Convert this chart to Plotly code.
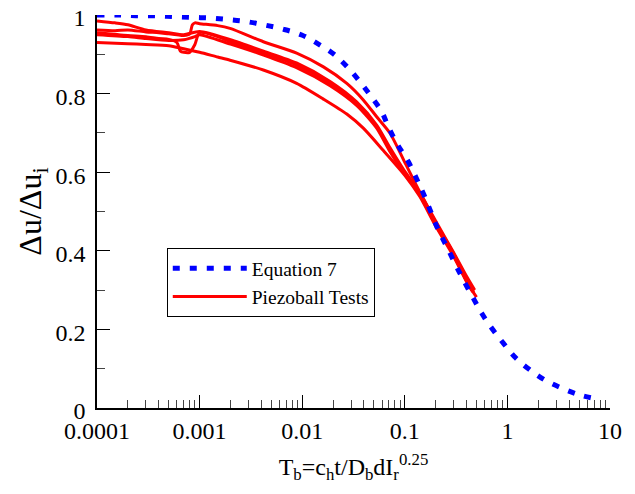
import plotly.graph_objects as go

# Equation 7 (blue dashed)
eq_x = [0.0001, 0.00016, 0.00024, 0.00037, 0.00056, 0.00085, 0.0013, 0.00195, 0.0029, 0.0044,
        0.0065, 0.0099, 0.0144, 0.0204, 0.0275, 0.0366, 0.0475, 0.0595, 0.069, 0.085, 0.108,
        0.131, 0.154, 0.212, 0.256, 0.308, 0.372, 0.466, 0.562, 0.713, 0.912, 1.21, 1.63,
        2.32, 3.43, 5.1, 7.7]
eq_y = [1.0, 1.0, 0.998, 0.998, 0.996, 0.994, 0.992, 0.988, 0.983, 0.974,
        0.964, 0.949, 0.926, 0.900, 0.868, 0.830, 0.791, 0.754, 0.716, 0.67, 0.627,
        0.582, 0.542, 0.453, 0.411, 0.368, 0.326, 0.279, 0.241, 0.201, 0.165, 0.127, 0.0985,
        0.071, 0.050, 0.033, 0.022]

# Piezoball tests (red)
t1_x = [0.0001, 0.00015, 0.0002, 0.0003, 0.0005, 0.0007, 0.001, 0.002, 0.0042, 0.0088,
        0.0187, 0.0339, 0.0532, 0.0718, 0.0966, 0.14, 0.2, 0.3, 0.4, 0.47]
t1_y = [0.985, 0.980, 0.975, 0.962, 0.955, 0.950, 0.958, 0.937, 0.908, 0.878,
        0.831, 0.779, 0.720, 0.662, 0.608, 0.548, 0.472, 0.392, 0.33, 0.295]

t2_x = [0.0001, 0.00015, 0.0002, 0.0003, 0.0004, 0.0005, 0.0006, 0.0007, 0.0008, 0.00085,
        0.0009, 0.001, 0.0015, 0.00198, 0.00418, 0.00883, 0.0161, 0.0272, 0.0394, 0.0532,
        0.0718, 0.1, 0.14, 0.2, 0.3, 0.4, 0.48]
t2_y = [0.962, 0.960, 0.962, 0.957, 0.955, 0.952, 0.950, 0.948, 0.952, 0.975,
        0.980, 0.978, 0.973, 0.966, 0.932, 0.903, 0.868, 0.826, 0.784, 0.741,
        0.699, 0.625, 0.55, 0.476, 0.395, 0.335, 0.30]

t3_x = [0.0001, 0.0002, 0.0003, 0.0004, 0.0005, 0.0006, 0.00065, 0.0007, 0.0008, 0.0009,
        0.001, 0.0015, 0.002, 0.0042, 0.0088, 0.0187, 0.0339, 0.0532, 0.0718, 0.0966,
        0.14, 0.2, 0.3, 0.4, 0.45]
t3_y = [0.955, 0.948, 0.945, 0.940, 0.938, 0.930, 0.908, 0.905, 0.905, 0.925,
        0.955, 0.945, 0.932, 0.903, 0.873, 0.826, 0.775, 0.716, 0.656, 0.604,
        0.546, 0.47, 0.392, 0.325, 0.30]

t4_x = [0.0001, 0.0002, 0.0003, 0.0005, 0.0007, 0.0009, 0.001, 0.002, 0.0042, 0.0088,
        0.0187, 0.0339, 0.0532, 0.0718, 0.0966, 0.14, 0.2, 0.3, 0.4, 0.5]
t4_y = [0.950, 0.945, 0.940, 0.935, 0.937, 0.945, 0.950, 0.926, 0.898, 0.866,
        0.820, 0.770, 0.712, 0.652, 0.600, 0.542, 0.466, 0.388, 0.322, 0.282]

t5_x = [0.0001, 0.0002, 0.0003, 0.0005, 0.0007, 0.001, 0.0015, 0.00198, 0.00418, 0.00883,
        0.0161, 0.0272, 0.0394, 0.0618, 0.1, 0.14, 0.2, 0.3, 0.4, 0.46]
t5_y = [0.930, 0.927, 0.925, 0.922, 0.914, 0.905, 0.893, 0.885, 0.860, 0.826,
        0.786, 0.748, 0.712, 0.655, 0.592, 0.538, 0.463, 0.385, 0.322, 0.295]

tests = [(t1_x, t1_y), (t2_x, t2_y), (t3_x, t3_y), (t4_x, t4_y), (t5_x, t5_y)]

x_tickvals = [0.0001, 0.001, 0.01, 0.1, 1, 10]
x_ticktext = ["0.0001", "0.001", "0.01", "0.1", "1", "10"]
y_tickvals = [0, 0.2, 0.4, 0.6, 0.8, 1.0]
y_ticktext = ["0", "0.2", "0.4", "0.6", "0.8", "1"]

x_minor = [k * 10 ** e for e in range(-4, 1) for k in range(2, 10)]
y_minor = [0.1, 0.3, 0.5, 0.7, 0.9]

fig = go.Figure()

for i, (xs, ys) in enumerate(tests):
    fig.add_trace(go.Scatter(
        x=xs, y=ys, mode="lines", name="Piezoball Tests",
        line=dict(color="#ff0000", width=3, shape="spline", smoothing=0.7),
        legendgroup="tests", showlegend=(i == 0),
        legendrank=2,
    ))

fig.add_trace(go.Scatter(
    x=eq_x, y=eq_y, mode="lines", name="Equation 7",
    line=dict(color="#0000ff", width=5, dash="7px,10px", shape="spline"),
    legendrank=1,
))

font_family = "'Liberation Serif', 'Times New Roman', Times, serif"

fig.update_layout(
    width=627, height=486,
    margin=dict(l=89, r=25, t=7, b=86, autoexpand=False),
    paper_bgcolor="white", plot_bgcolor="white",
    font=dict(family=font_family, size=24, color="black"),
    showlegend=True,
    legend=dict(
        x=0.136, y=0.407, xanchor="left", yanchor="top",
        bordercolor="black", borderwidth=1, bgcolor="white",
        font=dict(family=font_family, size=19.5, color="black"),
        traceorder="normal", itemwidth=74,
    ),
    xaxis=dict(
        type="log", range=[-4, 1], automargin=False, ticklabeloverflow="allow",
        tickvals=x_tickvals, ticktext=x_ticktext,
        ticks="inside", ticklen=13, tickwidth=1, tickcolor="black",
        showline=True, linecolor="black", linewidth=1.5,
        showgrid=False, zeroline=False,
        minor=dict(tickvals=x_minor, ticks="inside", ticklen=8, tickwidth=1,
                   tickcolor="#444", showgrid=False),
        title=dict(text="T<sub>b</sub>=c<sub>h</sub>t/D<sub>b</sub>dI<sub>r</sub><sup>0.25</sup>",
                   font=dict(family=font_family, size=24), standoff=16),
        tickfont=dict(family=font_family, size=24),
    ),
    yaxis=dict(
        range=[0, 1], automargin=False, ticklabeloverflow="allow",
        tickvals=y_tickvals, ticktext=y_ticktext,
        ticks="inside", ticklen=13, tickwidth=1, tickcolor="black",
        showline=True, linecolor="black", linewidth=1.5,
        showgrid=False, zeroline=False, ticklabelstandoff=5, ticklabelshift=3,
        minor=dict(tickvals=y_minor, ticks="inside", ticklen=8, tickwidth=1,
                   tickcolor="#444", showgrid=False),
        title=dict(text="Δu/Δu<sub>i</sub>", font=dict(family=font_family, size=32), standoff=4),
        tickfont=dict(family=font_family, size=24),
    ),
)

fig.write_html("out.html")
